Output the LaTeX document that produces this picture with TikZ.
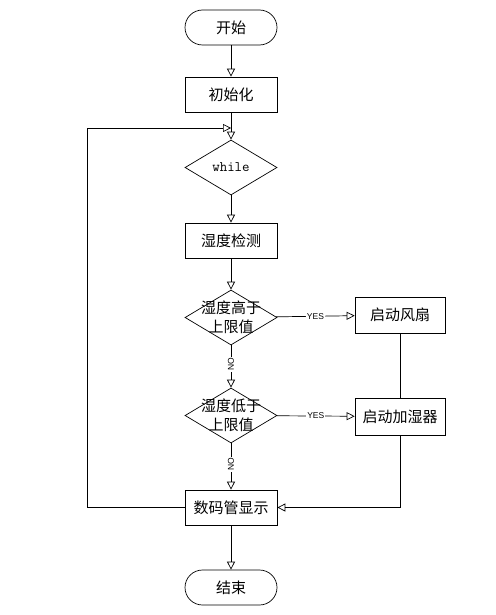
\documentclass[tikz,border=0pt]{standalone}
\usepackage{fontspec}
\setmainfont{Noto Sans CJK SC}
\setsansfont{Liberation Sans}
\usetikzlibrary{arrows.meta}
\usetikzlibrary{positioning}
\usetikzlibrary{shapes.geometric}
\tikzset{
	>={Triangle[open,length=8pt,width=8pt]},
	every path/.style={line width=0.7pt},
	terminal/.style={
		rectangle,
		rounded corners=17.5pt,
		draw=black,
		minimum width=92pt,
		minimum height=35pt,
		font=\fontsize{15}{17}\selectfont},
	process/.style={
		rectangle,
		draw=black,
		minimum width=92pt,
		minimum height=35pt,
		font=\fontsize{15}{17}\selectfont},
	decision/.style={
		diamond,
		draw=black,
		inner sep=0pt,
		minimum width=92pt,
		minimum height=55pt},
	dtext/.style={align=center, font=\fontsize{15}{19}\selectfont},
	line/.style={draw, ->},
	yes/.style={midway, fill=white, inner sep=1pt, font=\sffamily\fontsize{8.5}{10}\selectfont},
	no/.style={pos=0.45, fill=white, inner sep=1pt, rotate=90, font=\sffamily\fontsize{8.5}{10}\selectfont},
}
\begin{document}
\begin{tikzpicture}[x=1pt,y=-1pt]
		\useasboundingbox (0,0) rectangle (495,615);
		\node[terminal] (start) at (231,27.5) {开始};
		\node[process] (init) at (231,94.5) {初始化};
		\node[decision, label={[font=\ttfamily\fontsize{14.5}{16}\selectfont]center:while}] (loop) at (231,167.5) {};
		\node[process] (detect) at (231,240.5) {湿度检测};
		\node[decision, label={[dtext]center:湿度高于\\上限值}] (high) at (231,317.5) {};
		\node[decision, label={[dtext]center:湿度低于\\上限值}] (low) at (231,415.5) {};
		\node[process, minimum width=90pt, minimum height=36pt] (fan) at (400,315) {启动风扇};
		\node[process, minimum width=90pt, minimum height=37pt] (humid) at (400,416.5) {启动加湿器};
		\node[process] (show) at (231,507.5) {数码管显示};
		\node[terminal] (stop) at (231,587.5) {结束};
		\coordinate (back) at (231,128);
		% main chain
		\path[line] (start) -- (init);
		\path[line] (init) -- (loop);
		\path[line] (loop) -- (detect);
		\path[line] (detect) -- (high);
		\path[line] (high) -- node[no] {NO} (low);
		\path[line] (low) -- node[no] {NO} (show);
		\path[line] (show) -- (stop);
		% branches
		\path[line] (high) -- node[yes] {YES} (fan);
		\path[line] (low) -- node[yes] {YES} (humid);
		\draw (fan) -- (humid);
		\path[line] (humid.south) |- (show.east);
		% loop back
		\path[line] (show.west) -- ++(-97,0) |- (back);
\end{tikzpicture}
\end{document}
